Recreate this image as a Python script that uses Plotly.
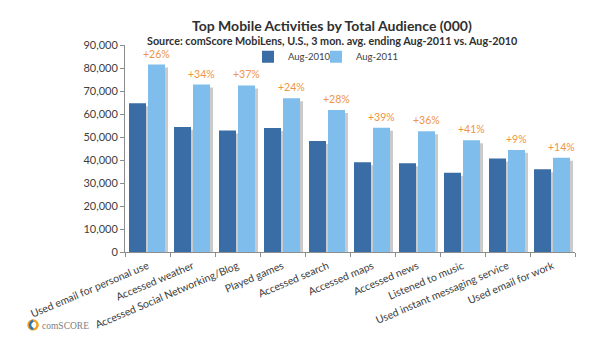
import plotly.graph_objects as go

categories = ["Used email for personal use", "Accessed weather", "Accessed Social Networking/Blog",
              "Played games", "Accessed search", "Accessed maps", "Accessed news",
              "Listened to music", "Used instant messaging service", "Used email for work"]
aug_2010 = [64700, 54400, 52800, 53900, 48300, 39000, 38600, 34500, 40700, 36000]
aug_2011 = [81500, 72800, 72400, 66800, 61700, 54000, 52500, 48600, 44400, 41000]
growth_labels = ["+26%", "+34%", "+37%", "+24%", "+28%", "+39%", "+36%", "+41%", "+9%", "+14%"]
y_ticks = [0, 10000, 20000, 30000, 40000, 50000, 60000, 70000, 80000, 90000]

DARK = "#3A6DA5"
LIGHT = "#7FBEEC"
ORANGE = "#EE9446"
TXT = "#404040"
FONT = "Lato"

L, R, T, B = 125, 25, 45, 84
W, H = 600, 342
PW, PH = W - L - R, H - T - B

px_per_cat = PW / len(categories)
bar_w = 17 / px_per_cat
dark_off = -18.5 / px_per_cat
light_off = 0.5 / px_per_cat
sh_dx = 3 / px_per_cat
sh_dy = 1300


def px(x, y):
    return (x - L) / PW, 1 - (y - T) / PH


fig = go.Figure()
# soft drop shadows
for vals, off in [(aug_2010, dark_off), (aug_2011, light_off)]:
    fig.add_trace(go.Bar(x=categories, y=[v - sh_dy for v in vals], offset=off + sh_dx, width=bar_w,
                         marker=dict(color="rgba(90,90,90,0.32)", line=dict(width=0)),
                         showlegend=False, hoverinfo="skip"))
fig.add_trace(go.Bar(x=categories, y=aug_2010, name="Aug-2010", offset=dark_off, width=bar_w,
                     marker=dict(color=DARK, line=dict(width=0)), legend="legend"))
fig.add_trace(go.Bar(x=categories, y=aug_2011, name="Aug-2011", offset=light_off, width=bar_w,
                     marker=dict(color=LIGHT, line=dict(width=0)), legend="legend2"))

annotations = []
light_center_shift = (light_off + bar_w / 2) * px_per_cat
for c, v, lab in zip(categories, aug_2011, growth_labels):
    annotations.append(dict(x=c, y=v, text=lab, showarrow=False, xanchor="center", yanchor="middle",
                            xshift=light_center_shift, yshift=11, borderpad=0,
                            font=dict(size=10.5, color=ORANGE, family=FONT)))

tx, ty = px(332, 24.5)
annotations.append(dict(text="<b>Top Mobile Activities by Total Audience (000)</b>", xref="paper", yref="paper",
                        x=tx, y=ty, xanchor="center", yanchor="middle", showarrow=False, borderpad=0,
                        font=dict(size=14, color="#303030", family=FONT)))
sx, sy = px(332, 40)
annotations.append(dict(text="<b>Source: comScore MobiLens, U.S., 3 mon. avg. ending Aug-2011 vs. Aug-2010</b>",
                        xref="paper", yref="paper", x=sx, y=sy, xanchor="center", yanchor="middle",
                        showarrow=False, borderpad=0, font=dict(size=10.8, color="#303030", family=FONT)))
lx, ly = px(40, 334)
annotations.append(dict(text="comSCORE", xref="paper", yref="paper", x=lx, y=ly,
                        xanchor="left", yanchor="middle", showarrow=False,
                        font=dict(size=9.5, color="#808080", family="Liberation Serif")))

leg1x, legy = px(248, 57)
leg2x, _ = px(316, 57)
legend_style = dict(orientation="h", y=legy, xanchor="left", yanchor="middle",
                    font=dict(size=9.5, color=TXT, family=FONT), itemwidth=30,
                    bgcolor="rgba(0,0,0,0)")

fig.update_layout(
    width=W, height=H,
    margin=dict(l=L, r=R, t=T, b=B),
    barmode="overlay",
    paper_bgcolor="white", plot_bgcolor="white",
    font=dict(family=FONT, color=TXT, size=10.5),
    showlegend=True,
    legend=dict(x=leg1x, **legend_style),
    legend2=dict(x=leg2x, **legend_style),
    annotations=annotations,
)

# comScore logo ring (orange with a blue left arc)
cx, cy, r = 33, 333, 4.5
x0, y0 = px(cx - r, cy - r)
x1, y1 = px(cx + r, cy + r)
fig.add_shape(type="circle", xref="paper", yref="paper", x0=x0, y0=y1, x1=x1, y1=y0,
              line=dict(color="#F3A21F", width=2.5))
p0, p1, p2 = px(cx, cy - r), px(cx - r * 1.35, cy), px(cx, cy + r)
fig.add_shape(type="path", xref="paper", yref="paper",
              path=f"M {p0[0]} {p0[1]} Q {p1[0]} {p1[1]} {p2[0]} {p2[1]}",
              line=dict(color="#2E77BC", width=2.5))

fig.update_yaxes(range=[0, 90000], tickvals=y_ticks, tickformat=",", showgrid=False,
                 showline=True, linecolor="#8C8C8C", linewidth=1, ticks="outside", ticklen=4,
                 tickcolor="#8C8C8C", tickfont=dict(size=11, color=TXT), zeroline=False)
fig.update_xaxes(showgrid=False, showline=True, linecolor="#8C8C8C", linewidth=1,
                 ticks="outside", ticklen=4, tickcolor="#8C8C8C", tickson="boundaries",
                 tickangle=-23, ticklabelstandoff=3, tickfont=dict(size=10.5, color=TXT),
                 range=[-0.5, 9.5])

fig.write_html("out.html")
